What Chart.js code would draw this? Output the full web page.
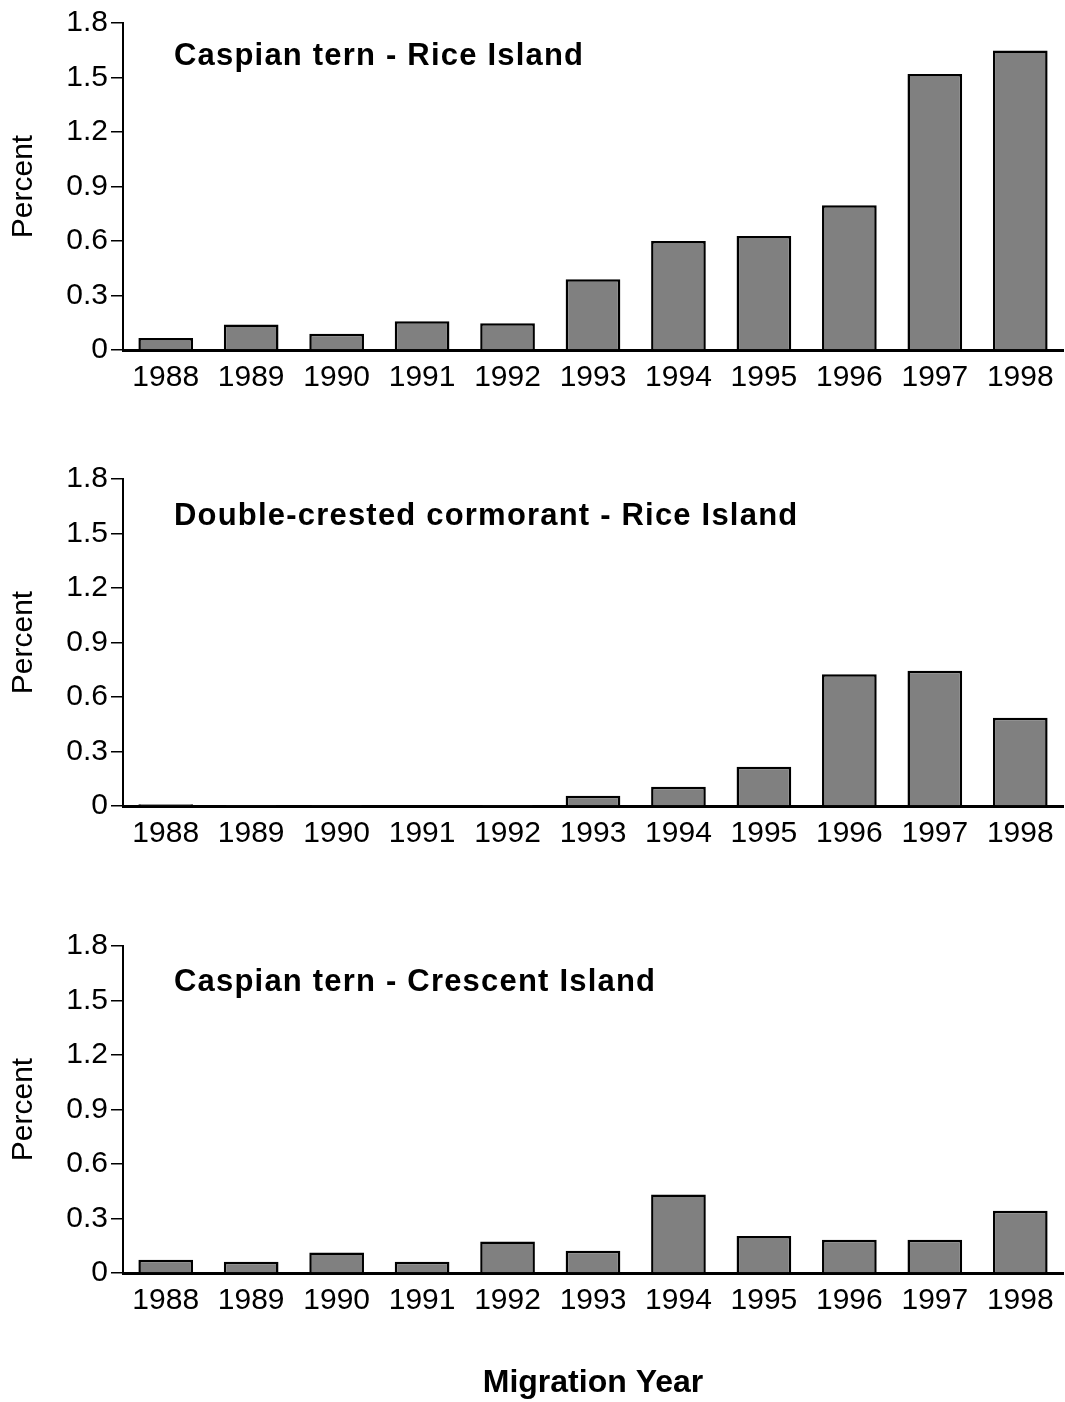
<!DOCTYPE html>
<html>
<head>
<meta charset="utf-8">
<script src="https://cdn.jsdelivr.net/npm/chart.js@4.4.1/dist/chart.umd.min.js"></script>
<style>
  body { margin: 0; background: #fff; }
  #page { position: relative; width: 1065px; height: 1402px; background: #fff; }
  .panel { position: absolute; left: 0; }
</style>
</head>
<body>
<div id="page">
  <div class="panel" style="top:0px"><canvas id="c1" width="1065" height="400"></canvas></div>
  <div class="panel" style="top:456px"><canvas id="c2" width="1065" height="400"></canvas></div>
  <div class="panel" style="top:923px"><canvas id="c3" width="1065" height="479"></canvas></div>
</div>
<script>
// Data
const years = ['1988', '1989', '1990', '1991', '1992', '1993', '1994', '1995', '1996', '1997', '1998'];
const yTickLabels = ['0', '0.3', '0.6', '0.9', '1.2', '1.5', '1.8'];

const ternRice = [0.066, 0.14, 0.09, 0.158, 0.147, 0.39, 0.60, 0.628, 0.797, 1.519, 1.649];
const cormorantRice = [0.01, 0.006, 0.006, 0, 0.006, 0.057, 0.106, 0.216, 0.725, 0.745, 0.486];
const ternCrescent = [0.073, 0.062, 0.113, 0.062, 0.174, 0.123, 0.432, 0.2035, 0.183, 0.183, 0.343];

const panelTitles = ['Caspian tern - Rice Island', 'Double-crested cormorant - Rice Island', 'Caspian tern - Crescent Island'];
const xAxisTitle = 'Migration Year';
const yAxisTitle = 'Percent';

const FONT = "'Liberation Sans', Arial, sans-serif";
Chart.defaults.font.family = FONT;
Chart.defaults.color = '#000';

// draws the bold caption inside the plot area
const panelTitlePlugin = {
    id: 'panelTitle',
    afterDraw(chart, args, opts) {
        const ctx = chart.ctx;
        const area = chart.chartArea;
        ctx.save();
        ctx.font = 'bold 31px ' + FONT;
        ctx.letterSpacing = '1.2px';
        ctx.fillStyle = '#000';
        ctx.textBaseline = 'middle';
        ctx.textAlign = 'left';
        ctx.fillText(opts.text, area.left + 51, area.top + opts.dy);
        ctx.restore();
    }
};

function makePanel(id, values, title, titleDy, showXTitle) {
    const ctx = document.getElementById(id);
    return new Chart(ctx, {
        type: 'bar',
        data: {
            labels: years,
            datasets: [{
                data: values,
                backgroundColor: '#808080',
                borderColor: '#000',
                borderWidth: 2.5,
                categoryPercentage: 1,
                barPercentage: 0.64
            }]
        },
        plugins: [panelTitlePlugin],
        options: {
            responsive: false,
            animation: false,
            events: [],
            layout: { padding: { top: 23, right: 2, left: 0, bottom: 0 } },
            plugins: {
                legend: { display: false },
                tooltip: { enabled: false },
                panelTitle: { text: title, dy: titleDy }
            },
            scales: {
                x: {
                    grid: { display: false, drawTicks: false },
                    border: { display: true, color: '#000', width: 3 },
                    ticks: { font: { size: 30 }, padding: 10, color: '#000', maxRotation: 0, autoSkip: false },
                    title: {
                        display: showXTitle,
                        text: xAxisTitle,
                        font: { size: 32, weight: 'bold', lineHeight: 1 },
                        color: '#000',
                        padding: { top: 0, bottom: 3 }
                    },
                    afterFit(scale) { scale.height = showXTitle ? 129 : 50; }
                },
                y: {
                    min: 0,
                    max: 1.8,
                    ticks: {
                        stepSize: 0.3,
                        font: { size: 30 },
                        padding: 3,
                        color: '#000',
                        callback: (v, i) => yTickLabels[i]
                    },
                    grid: {
                        display: true,
                        drawOnChartArea: false,
                        drawTicks: true,
                        tickLength: 12,
                        color: '#000',
                        lineWidth: 1.5
                    },
                    border: { display: true, color: '#000', width: 2 },
                    title: {
                        display: true,
                        text: yAxisTitle,
                        font: { size: 30 },
                        color: '#000',
                        padding: { top: 6, bottom: 0 }
                    },
                    afterFit(scale) { scale.width = 123; }
                }
            }
        }
    });
}

makePanel('c1', ternRice, panelTitles[0], 33.5, false);
makePanel('c2', cormorantRice, panelTitles[1], 37.5, false);
makePanel('c3', ternCrescent, panelTitles[2], 36, true);
</script>
</body>
</html>
